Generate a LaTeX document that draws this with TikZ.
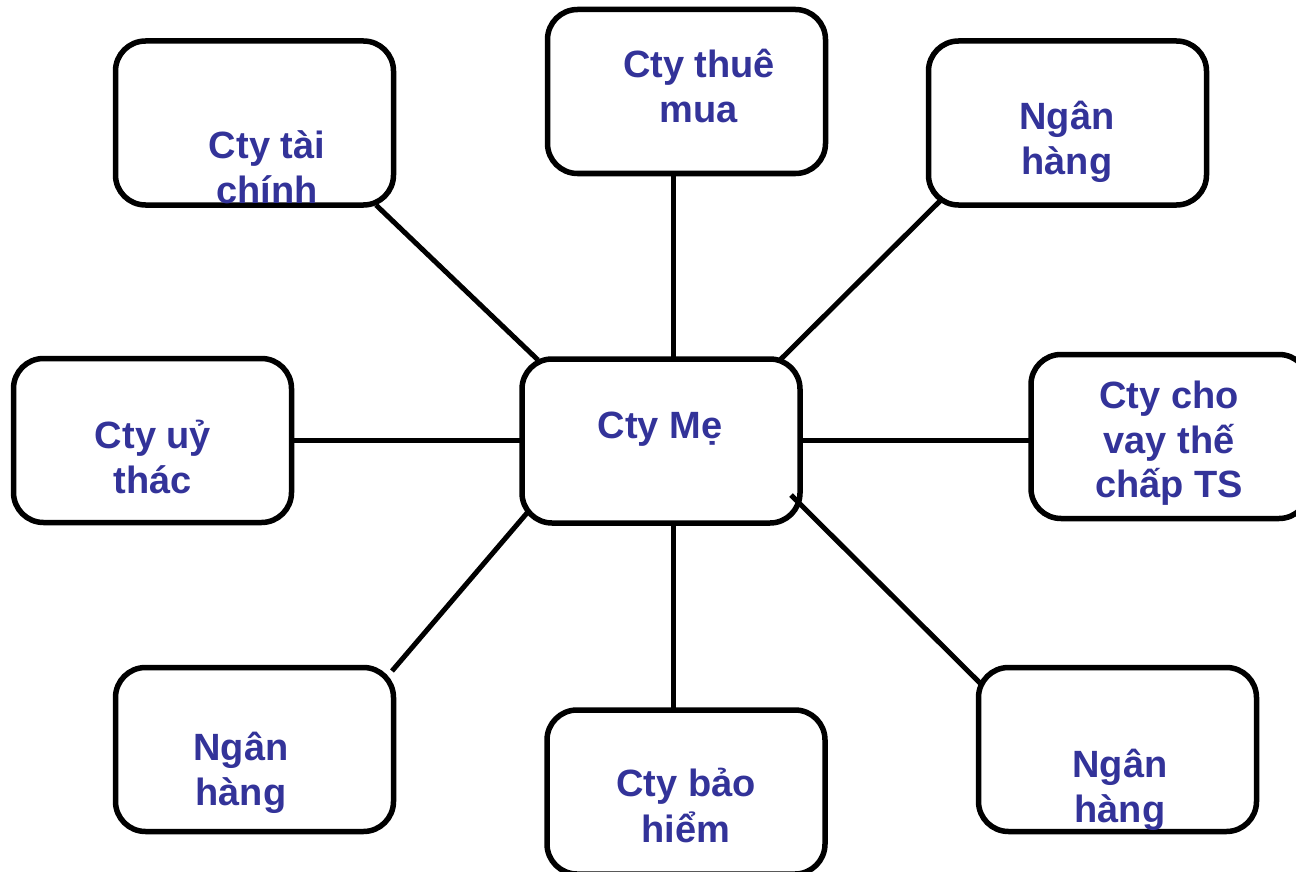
\documentclass[tikz,border=0pt]{standalone}
\usepackage{fontspec}
\setmainfont{Liberation Sans}
\definecolor{labelblue}{RGB}{51,51,153}
\begin{document}
\begin{tikzpicture}[x=1pt,y=-1pt,
  box/.style={draw=black,line width=5.5pt,rounded corners=30pt,
    minimum width=278pt,minimum height=164pt,inner sep=0pt},
  link/.style={draw=black,line width=5pt},
  lbl/.style={anchor=base,text=labelblue,inner sep=0pt,
    font=\fontsize{38}{45}\selectfont\bfseries}]
\useasboundingbox (0,0) rectangle (1296,872);

% boxes
\node[box] (me)    at (661,441)    {};
\node[box] (tai)   at (254.5,123)  {};
\node[box] (thue)  at (686.5,91.5) {};
\node[box] (nh1)   at (1067.5,123) {};
\node[box] (uy)    at (152.5,440.5){};
\node[box] (vay)   at (1170,436.5) {};
\node[box] (nh2)   at (254.5,749.5){};
\node[box] (bh)    at (686,792)    {};
\node[box] (nh3)   at (1117.5,749.5){};

% connector end points on the box borders
\coordinate (tai-e)  at (376,205);
\coordinate (me-nw)  at (538,360);
\coordinate (thue-s) at (673,174);
\coordinate (me-n)   at (673,358);
\coordinate (nh1-e)  at (943,198);
\coordinate (me-ne)  at (780,360);
\coordinate (uy-e)   at (292,440);
\coordinate (me-w)   at (521,440);
\coordinate (me-e)   at (801,440);
\coordinate (vay-w)  at (1029,440);
\coordinate (me-sw)  at (527,513);
\coordinate (nh2-e)  at (392,671);
\coordinate (me-s)   at (673,523);
\coordinate (bh-n)   at (673,709);
\coordinate (me-se)  at (791,495);
\coordinate (nh3-e)  at (981,684);

% connectors
\draw[link] (tai-e) -- (me-nw);
\draw[link] (thue-s) -- (me-n);
\draw[link] (nh1-e) -- (me-ne);
\draw[link] (uy-e) -- (me-w);
\draw[link] (me-e) -- (vay-w);
\draw[link] (me-sw) -- (nh2-e);
\draw[link] (me-s) -- (bh-n);
\draw[link] (me-se) -- (nh3-e);

% labels
\node[lbl] (me-t)   at (660,438)  {Cty Mẹ};
\node[lbl] (tai-t1) at (267,159)  {Cty tài};
\node[lbl] (tai-t2) at (267,204)  {chính};
\node[lbl] (thue-t1) at (699,78)  {Cty thuê};
\node[lbl] (thue-t2) at (699,123) {mua};
\node[lbl] (nh1-t1) at (1067,130) {Ngân};
\node[lbl] (nh1-t2) at (1067,175) {hàng};
\node[lbl] (uy-t1)  at (153,448)  {Cty uỷ};
\node[lbl] (uy-t2)  at (153,493)  {thác};
\node[lbl] (vay-t1) at (1169,408) {Cty cho};
\node[lbl] (vay-t2) at (1169,453) {vay thế};
\node[lbl] (vay-t3) at (1169,497) {chấp TS};
\node[lbl] (nh2-t1) at (241,760)  {Ngân};
\node[lbl] (nh2-t2) at (241,805)  {hàng};
\node[lbl] (bh-t1)  at (686,796)  {Cty bảo};
\node[lbl] (bh-t2)  at (686,842)  {hiểm};
\node[lbl] (nh3-t1) at (1120,777) {Ngân};
\node[lbl] (nh3-t2) at (1120,822) {hàng};
\end{tikzpicture}
\end{document}
